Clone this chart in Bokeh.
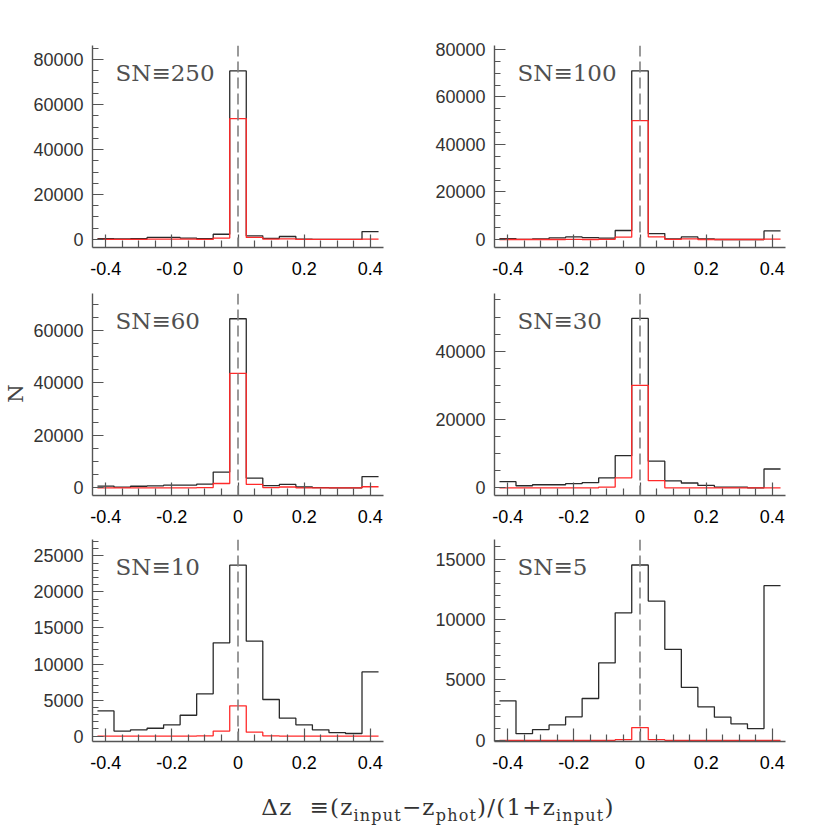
import math
from bokeh.plotting import figure
from bokeh.layouts import column, row
from bokeh.models import Span, Label, FixedTicker, SingleIntervalTicker, NumeralTickFormatter, Div
from bokeh.embed import file_html
from bokeh.resources import INLINE
from bokeh.core.properties import value

# ---------------- data ----------------
bin_centers = [-0.40, -0.35, -0.30, -0.25, -0.20, -0.15, -0.10, -0.05, 0.00,
               0.05, 0.10, 0.15, 0.20, 0.25, 0.30, 0.35, 0.40]
bin_width = 0.05

x_major_ticks = [-0.4, -0.2, 0.0, 0.2, 0.4]
x_minor_ticks = [-0.35, -0.3, -0.25, -0.15, -0.1, -0.05, 0.05, 0.1, 0.15, 0.25, 0.3, 0.35]

titles = ["SN\u2261250", "SN\u2261100", "SN\u226160", "SN\u226130", "SN\u226110", "SN\u22615"]

sn250_all = [300, 200, 300, 900, 900, 600, 300, 2300, 75000, 1600, 450, 1300, 100, 50, 0, 0, 3500]
sn250_good = [0, 0, 0, 100, 100, 100, 0, 600, 53800, 900, 100, 200, 0, 0, 0, 0, 150]

sn100_all = [400, 100, 300, 700, 1100, 800, 600, 3800, 71000, 2500, 300, 1100, 300, 0, 0, 0, 3600]
sn100_good = [0, 0, 0, 0, 100, 0, 100, 1000, 50000, 1100, 100, 300, 0, 0, 0, 0, 150]

sn60_all = [650, 250, 600, 750, 1000, 1000, 1400, 6000, 64500, 3700, 800, 1300, 300, 50, 0, 0, 4300]
sn60_good = [0, 0, 0, 0, 0, 0, 100, 1650, 43700, 1300, 100, 300, 0, 0, 0, 0, 400]

sn30_all = [1800, 600, 900, 900, 1200, 1500, 2900, 9400, 49600, 7800, 2000, 1400, 700, 200, 200, 0, 5500]
sn30_good = [0, 0, 0, 0, 0, 0, 200, 2900, 30000, 2100, 0, 0, 0, 0, 0, 0, 0]

sn10_all = [3500, 700, 880, 1100, 1570, 2900, 5870, 12940, 23700, 13170, 5080, 2500, 1570, 880, 500, 370, 8900]
sn10_good = [0, 0, 0, 0, 0, 0, 50, 700, 4200, 550, 50, 0, 0, 0, 0, 0, 0]

sn5_all = [3270, 550, 890, 1275, 1940, 3460, 6400, 10550, 14510, 11520, 7530, 4380, 2770, 1910, 1360, 970, 12800]
sn5_good = [0, 0, 0, 0, 0, 0, 0, 50, 1050, 50, 0, 0, 0, 0, 0, 0, 0]

all_series = [sn250_all, sn100_all, sn60_all, sn30_all, sn10_all, sn5_all]
good_series = [sn250_good, sn100_good, sn60_good, sn30_good, sn10_good, sn5_good]

y_ranges = [(-3600, 86300), (-3360, 81650), (-2935, 74140),
            (-2254, 56900), (-740, 27260), (-100, 16620)]
y_intervals = [20000, 20000, 20000, 20000, 5000, 5000]
y_minor_counts = [4, 4, 4, 4, 5, 5]

# ---------------- layout constants ----------------
FRAME_W, FRAME_H = 293, 202
TOPS = [45, 6, 4]
BOTTOMS = [40, 40, 36]
LEFT_B = 60
RIGHTS = [49, 10]
N_W = 30

AX_COL = "#555555"


def edges_of(centers):
    e = [c - bin_width / 2 for c in centers]
    e.append(centers[-1] + bin_width / 2)
    return e


def make_panel(i):
    r, c = divmod(i, 2)
    w = LEFT_B + FRAME_W + RIGHTS[c]
    h = TOPS[r] + FRAME_H + BOTTOMS[r]
    p = figure(width=w, height=h, x_range=(-0.44, 0.44), y_range=y_ranges[i],
               output_backend="svg", toolbar_location=None,
               min_border_left=LEFT_B, min_border_right=RIGHTS[c],
               min_border_top=TOPS[r], min_border_bottom=BOTTOMS[r])
    p.outline_line_color = None
    p.grid.visible = False
    p.background_fill_color = "white"
    p.border_fill_color = "white"

    ex = edges_of(bin_centers)
    ya = list(all_series[i]) + [all_series[i][-1]]
    yg = list(good_series[i]) + [good_series[i][-1]]
    p.step(ex, ya, mode="after", line_color="#2a2a2a", line_width=1.3)
    p.step(ex, yg, mode="after", line_color="#ff2a2a", line_width=1.3)

    p.add_layout(Span(location=0, dimension="height", line_color="#808080",
                      line_dash="11 5", line_width=1.6))

    # x axis
    xa = p.xaxis[0]
    xa.ticker = FixedTicker(ticks=x_major_ticks, minor_ticks=x_minor_ticks)
    xa.formatter = NumeralTickFormatter(format="0.[0]")
    xa.major_tick_in = 13
    xa.major_tick_out = 0
    xa.minor_tick_in = 7
    xa.minor_tick_out = 0
    xa.axis_line_color = AX_COL
    xa.axis_line_width = 1.4
    xa.major_tick_line_color = AX_COL
    xa.minor_tick_line_color = AX_COL
    xa.major_tick_line_width = 1.2
    xa.minor_tick_line_width = 1.2
    xa.major_label_text_font = "Liberation Sans"
    xa.major_label_text_font_size = "18px"
    xa.major_label_text_color = "#000000"
    xa.major_label_standoff = 14

    # y axis
    ya_ax = p.yaxis[0]
    ya_ax.ticker = SingleIntervalTicker(interval=y_intervals[i], num_minor_ticks=y_minor_counts[i])
    ya_ax.formatter = NumeralTickFormatter(format="0")
    ya_ax.major_tick_in = 11
    ya_ax.major_tick_out = 0
    ya_ax.minor_tick_in = 6
    ya_ax.minor_tick_out = 0
    ya_ax.axis_line_color = AX_COL
    ya_ax.axis_line_width = 1.4
    ya_ax.major_tick_line_color = AX_COL
    ya_ax.minor_tick_line_color = AX_COL
    ya_ax.major_tick_line_width = 1.2
    ya_ax.minor_tick_line_width = 1.2
    ya_ax.major_label_text_font = "Liberation Sans"
    ya_ax.major_label_text_font_size = "18px"
    ya_ax.major_label_text_color = "#333333"
    ya_ax.major_label_standoff = 9

    p.add_layout(Label(x=23, y=FRAME_H - 27, x_units="screen", y_units="screen",
                       text=titles[i], text_font="DejaVu Serif", text_font_size="23px",
                       text_color="#505050", text_baseline="middle", text_align="left"))
    return p


panels = [make_panel(i) for i in range(6)]
grid = column(row(panels[0], panels[1]), row(panels[2], panels[3]), row(panels[4], panels[5]))

total_h = sum(TOPS) + 3 * FRAME_H + sum(BOTTOMS)
nfig = figure(width=N_W, height=total_h, x_range=(0, N_W), y_range=(0, total_h),
              output_backend="svg", toolbar_location=None,
              x_axis_type=None, y_axis_type=None,
              min_border_left=0, min_border_right=0, min_border_top=0, min_border_bottom=0)
nfig.outline_line_color = None
nfig.grid.visible = False
nfig.text(x=[15], y=[total_h - 393], text=["N"], angle=math.pi / 2,
          text_align="center", text_baseline="middle",
          text_font=value("DejaVu Serif"), text_font_size="21px", text_color="#444444")

xlabel = Div(
    text=('<div style="box-sizing:border-box; width:810px; padding-left:56px; padding-top:10px; '
          'text-align:center; font-family:\'DejaVu Serif\'; font-size:23px; color:#333; line-height:30px; '
          'letter-spacing:1.2px;">'
          '\u0394z &nbsp;\u2261(z<sub style="font-size:16px">input</sub>\u2212z<sub style="font-size:16px">phot</sub>)'
          '/(1+z<sub style="font-size:16px">input</sub>)</div>'),
    width=810, height=48)

layout = column(row(nfig, grid), xlabel)

with open("out.html", "w") as f:
    f.write(file_html(layout, INLINE))
